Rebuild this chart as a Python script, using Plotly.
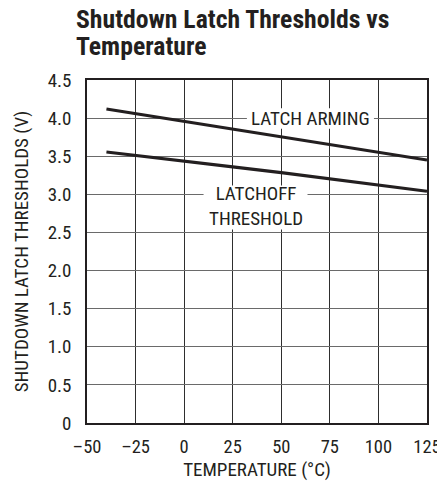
import plotly.graph_objects as go

temp_arming = [-40, 0, 50, 100, 125]
v_arming = [4.12, 3.96, 3.76, 3.55, 3.45]
temp_latchoff = [-40, 0, 25, 50, 75, 100, 125]
v_latchoff = [3.555, 3.44, 3.36, 3.285, 3.205, 3.12, 3.04]

x_ticks = [-50, -25, 0, 25, 50, 75, 100, 125]
x_ticktext = ["–50", "–25", "0", "25", "50", "75", "100", "125"]
y_ticks = [0, 0.5, 1.0, 1.5, 2.0, 2.5, 3.0, 3.5, 4.0, 4.5]
y_ticktext = ["0", "0.5", "1.0", "1.5", "2.0", "2.5", "3.0", "3.5", "4.0", "4.5"]

FONT = "Roboto Condensed, Liberation Sans Narrow, Arial Narrow, sans-serif"
INK = "#231f20"

fig = go.Figure()
fig.add_trace(go.Scatter(x=temp_arming, y=v_arming, mode="lines",
                         line=dict(color=INK, width=3.2), showlegend=False))
fig.add_trace(go.Scatter(x=temp_latchoff, y=v_latchoff, mode="lines",
                         line=dict(color=INK, width=3.2), showlegend=False))

# white label backgrounds, drawn between the grid and the traces
fig.add_shape(type="rect", x0=32.3, x1=97.7, y0=3.86, y1=4.13, layer="between",
              fillcolor="white", line=dict(width=0))
fig.add_shape(type="rect", x0=10.0, x1=63.5, y0=2.54, y1=3.115, layer="between",
              fillcolor="white", line=dict(width=0))

fig.add_annotation(x=65.0, y=4.0, text="LATCH ARMING", showarrow=False,
                   font=dict(family=FONT, size=19, color=INK))
fig.add_annotation(x=36.8, y=2.85, text="LATCHOFF<br>THRESHOLD", showarrow=False,
                   font=dict(family=FONT, size=19, color=INK))

fig.add_annotation(xref="paper", yref="paper", x=-13/353, y=(423 - 10) / 351,
                   xanchor="left", yanchor="middle", showarrow=False,
                   text="<b>Shutdown Latch Thresholds vs</b>",
                   font=dict(family=FONT, size=25.7, color=INK))
fig.add_annotation(xref="paper", yref="paper", x=-13/353, y=(423 - 37) / 351,
                   xanchor="left", yanchor="middle", showarrow=False,
                   text="<b>Temperature</b>",
                   font=dict(family=FONT, size=25.7, color=INK))

fig.update_layout(
    width=445, height=481,
    margin=dict(l=79, r=13, t=72, b=58),
    paper_bgcolor="white", plot_bgcolor="white",
    font=dict(family=FONT, color=INK),
    xaxis=dict(range=[-50, 125], tickvals=x_ticks, ticktext=x_ticktext,
               showgrid=True, gridcolor="#2e2e2e", gridwidth=1,
               showline=True, linecolor=INK, linewidth=1.5, mirror=True,
               ticks="", zeroline=False, ticklabelstandoff=6,
               ticklabeloverflow="allow",
               tickfont=dict(family=FONT, size=18.5, color=INK),
               title=dict(text="TEMPERATURE (°C)", font=dict(family=FONT, size=19, color=INK), standoff=6)),
    yaxis=dict(range=[0, 4.5], tickvals=y_ticks, ticktext=y_ticktext,
               showgrid=True, gridcolor="#6a6a6a", gridwidth=1,
               showline=True, linecolor=INK, linewidth=1.5, mirror=True,
               ticks="", zeroline=False, ticklabelstandoff=10,
               tickfont=dict(family=FONT, size=19, color=INK),
               title=dict(text="SHUTDOWN LATCH THRESHOLDS (V)", font=dict(family=FONT, size=19, color=INK), standoff=14)),
)

fig.write_html("out.html")
